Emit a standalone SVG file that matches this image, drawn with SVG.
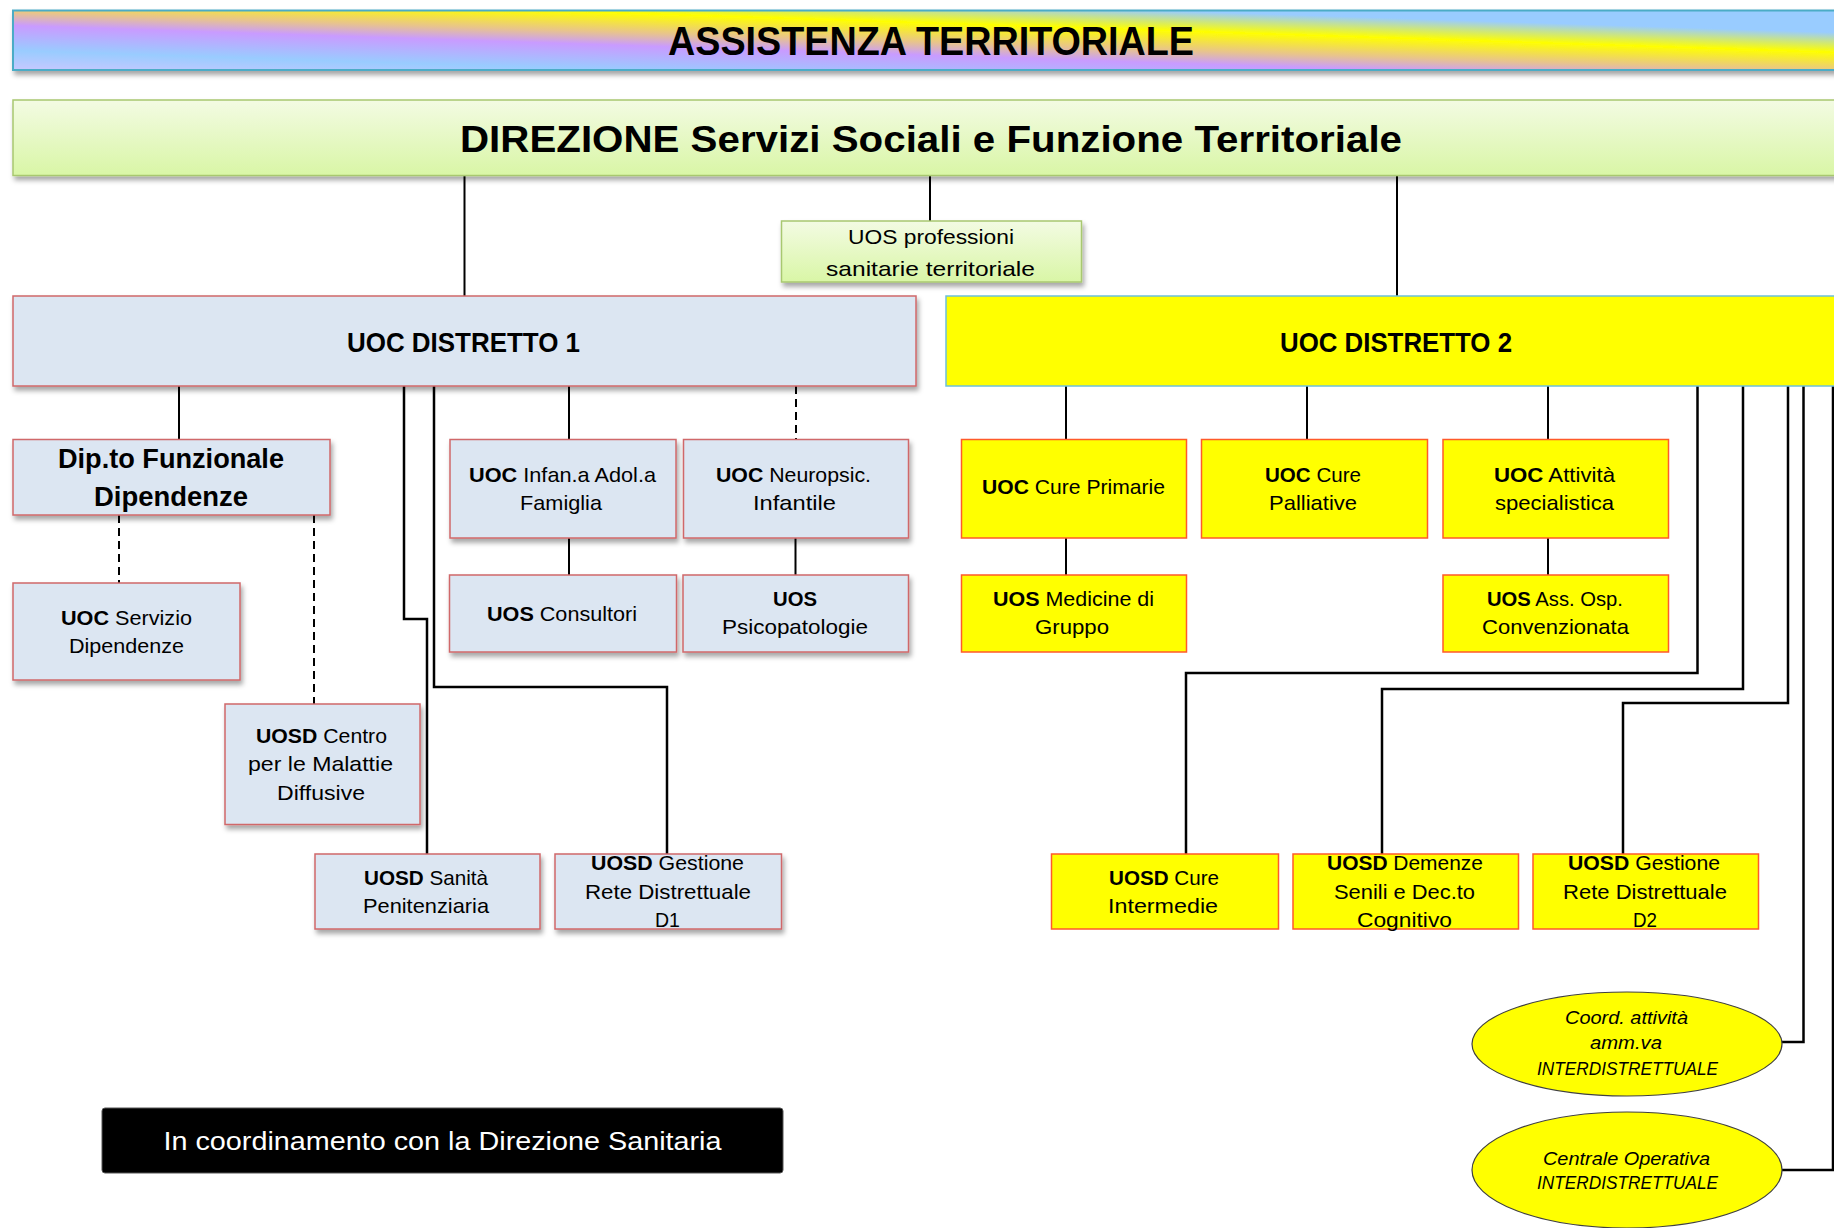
<svg xmlns="http://www.w3.org/2000/svg" width="1834" height="1228" viewBox="0 0 1834 1228">
<defs>
<linearGradient id="rainbow" gradientUnits="userSpaceOnUse" x1="0" y1="-50" x2="-3.9" y2="70">
<stop offset="0" stop-color="#99CCFF"/>
<stop offset="0.19" stop-color="#99CCFF"/>
<stop offset="0.354" stop-color="#FFFF00"/>
<stop offset="0.517" stop-color="#E8C48C"/>
<stop offset="0.625" stop-color="#C99BFF"/>
<stop offset="0.833" stop-color="#99CCFF"/>
<stop offset="1" stop-color="#C8C8FF"/>
</linearGradient>
<linearGradient id="green" x1="0" y1="0" x2="0" y2="1">
<stop offset="0" stop-color="#F3FBE3"/>
<stop offset="1" stop-color="#D9F6A6"/>
</linearGradient>
<filter id="shadow" x="-10%" y="-10%" width="130%" height="140%">
<feDropShadow dx="2" dy="4" stdDeviation="2.5" flood-color="#000" flood-opacity="0.35"/>
</filter>
<style>
text{font-family:"Liberation Sans",Arial,sans-serif;fill:#000;}
.b{font-weight:bold;}
.lbl{font-size:21px;text-anchor:middle;}
.it{font-size:18px;font-style:italic;text-anchor:middle;}
.blue{fill:#DCE6F2;stroke:#D0686A;stroke-width:1.5;filter:url(#shadow);}
.yel{fill:#FFFF00;stroke:#FF5A2A;stroke-width:1.5;}
.ell{fill:#FFFF00;stroke:#404040;stroke-width:1.2;}
.grn{fill:url(#green);stroke:#A8C870;stroke-width:1.5;filter:url(#shadow);}
.ln{fill:none;stroke:#000;stroke-width:2;}
.lt{fill:none;stroke:#000;stroke-width:2.5;}
.dash{fill:none;stroke:#000;stroke-width:2;stroke-dasharray:8 5;}
</style>
</defs>
<rect width="1834" height="1228" fill="#FFFFFF"/>

<g id="connectors">
<line class="ln" x1="464.5" y1="176" x2="464.5" y2="296"/>
<line class="ln" x1="930" y1="176" x2="930" y2="221"/>
<line class="ln" x1="1397" y1="176" x2="1397" y2="296"/>
<line class="ln" x1="179" y1="386" x2="179" y2="439.5"/>
<line class="ln" x1="569" y1="386" x2="569" y2="439.5"/>
<line class="dash" x1="796" y1="386" x2="796" y2="439.5"/>
<line class="ln" x1="569" y1="538" x2="569" y2="575"/>
<line class="ln" x1="795.5" y1="538" x2="795.5" y2="575"/>
<line class="dash" x1="119" y1="515" x2="119" y2="583"/>
<line class="dash" x1="314" y1="515" x2="314" y2="704"/>
<polyline class="lt" points="404,386 404,619 427,619 427,854"/>
<polyline class="lt" points="434,386 434,687 667,687 667,854"/>
<line class="ln" x1="1066" y1="386" x2="1066" y2="439.5"/>
<line class="ln" x1="1066" y1="538" x2="1066" y2="575"/>
<line class="ln" x1="1307" y1="386" x2="1307" y2="439.5"/>
<line class="ln" x1="1548" y1="386" x2="1548" y2="439.5"/>
<line class="ln" x1="1548" y1="538" x2="1548" y2="575"/>
<polyline class="lt" points="1697.5,386 1697.5,673 1186,673 1186,854"/>
<polyline class="lt" points="1743,386 1743,689 1382,689 1382,854"/>
<polyline class="lt" points="1788,386 1788,703 1623,703 1623,854"/>
<polyline class="lt" points="1803.5,386 1803.5,1042 1782,1042"/>
<polyline class="lt" points="1833,386 1833,1170 1782,1170"/>
</g>

<g id="title">
<rect x="13" y="10.5" width="1840" height="59.5" fill="url(#rainbow)" stroke="#4BACC6" stroke-width="2" filter="url(#shadow)"/>
<text x="931" y="55" class="b" font-size="40" text-anchor="middle" textLength="526" lengthAdjust="spacingAndGlyphs">ASSISTENZA TERRITORIALE</text>
</g>

<g id="direzione">
<rect class="grn" x="13" y="100" width="1840" height="75.5"/>
<text x="931" y="151.5" class="b" font-size="37" text-anchor="middle" textLength="942" lengthAdjust="spacingAndGlyphs">DIREZIONE Servizi Sociali e Funzione Territoriale</text>
</g>

<g id="uos-professioni">
<rect class="grn" x="781.5" y="221" width="300" height="61"/>
<text x="931" y="243.5" class="lbl" textLength="166" lengthAdjust="spacingAndGlyphs">UOS professioni</text>
<text x="930.5" y="276" class="lbl" textLength="209" lengthAdjust="spacingAndGlyphs">sanitarie territoriale</text>
</g>

<g id="distretto1">
<rect class="blue" x="13" y="296" width="903" height="90"/>
<text x="463.5" y="352" class="b" font-size="28" text-anchor="middle" textLength="233" lengthAdjust="spacingAndGlyphs">UOC DISTRETTO  1</text>
</g>

<g id="distretto2">
<rect x="946" y="296" width="900" height="90" fill="#FFFF00" stroke="#6EC0DA" stroke-width="1.5"/>
<text x="1396" y="352" class="b" font-size="28" text-anchor="middle" textLength="232" lengthAdjust="spacingAndGlyphs">UOC DISTRETTO  2</text>
</g>

<g id="dip-funzionale">
<rect class="blue" x="13" y="439.5" width="317" height="75.5"/>
<text x="171" y="468" class="b" font-size="27" text-anchor="middle" textLength="226" lengthAdjust="spacingAndGlyphs">Dip.to Funzionale</text>
<text x="171" y="506" class="b" font-size="27" text-anchor="middle" textLength="154" lengthAdjust="spacingAndGlyphs">Dipendenze</text>
</g>

<g id="uoc-infanzia">
<rect class="blue" x="450" y="439.5" width="226" height="98.5"/>
<text x="562.5" y="482" class="lbl" textLength="187" lengthAdjust="spacingAndGlyphs"><tspan class="b">UOC</tspan> Infan.a Adol.a</text>
<text x="561" y="510" class="lbl" textLength="82" lengthAdjust="spacingAndGlyphs">Famiglia</text>
</g>

<g id="uoc-neuropsic">
<rect class="blue" x="683.5" y="439.5" width="225" height="98.5"/>
<text x="793.5" y="482" class="lbl" textLength="155" lengthAdjust="spacingAndGlyphs"><tspan class="b">UOC</tspan> Neuropsic.</text>
<text x="794.5" y="510" class="lbl" textLength="83" lengthAdjust="spacingAndGlyphs">Infantile</text>
</g>

<g id="uoc-servizio-dip">
<rect class="blue" x="13" y="583" width="227" height="97"/>
<text x="126.5" y="625" class="lbl" textLength="131" lengthAdjust="spacingAndGlyphs"><tspan class="b">UOC</tspan>  Servizio</text>
<text x="126.5" y="653" class="lbl" textLength="115" lengthAdjust="spacingAndGlyphs">Dipendenze</text>
</g>

<g id="uos-consultori">
<rect class="blue" x="449.5" y="575" width="227" height="77"/>
<text x="562" y="620.5" class="lbl" textLength="150" lengthAdjust="spacingAndGlyphs"><tspan class="b">UOS</tspan> Consultori</text>
</g>

<g id="uos-psicopatologie">
<rect class="blue" x="683" y="575" width="225.5" height="77"/>
<text x="795" y="605.5" class="lbl b" textLength="44" lengthAdjust="spacingAndGlyphs">UOS</text>
<text x="795" y="634" class="lbl" textLength="146" lengthAdjust="spacingAndGlyphs">Psicopatologie</text>
</g>

<g id="uosd-centro">
<rect class="blue" x="225" y="704" width="195" height="120.5"/>
<text x="321.5" y="742.5" class="lbl" textLength="131" lengthAdjust="spacingAndGlyphs"><tspan class="b">UOSD</tspan> Centro</text>
<text x="320.5" y="771" class="lbl" textLength="145" lengthAdjust="spacingAndGlyphs">per le Malattie</text>
<text x="321" y="799.5" class="lbl" textLength="88" lengthAdjust="spacingAndGlyphs">Diffusive</text>
</g>

<g id="uosd-sanita">
<rect class="blue" x="315" y="854" width="225" height="75"/>
<text x="426" y="884.5" class="lbl" textLength="124" lengthAdjust="spacingAndGlyphs"><tspan class="b">UOSD</tspan> Sanità</text>
<text x="426" y="913" class="lbl" textLength="126" lengthAdjust="spacingAndGlyphs">Penitenziaria</text>
</g>

<g id="uosd-gestione-d1">
<rect class="blue" x="555" y="854" width="226.5" height="75"/>
<text x="667.5" y="869.5" class="lbl" textLength="153" lengthAdjust="spacingAndGlyphs"><tspan class="b">UOSD</tspan> Gestione</text>
<text x="668" y="898.5" class="lbl" textLength="166" lengthAdjust="spacingAndGlyphs">Rete Distrettuale</text>
<text x="667.5" y="927" class="lbl" textLength="25" lengthAdjust="spacingAndGlyphs">D1</text>
</g>

<g id="uoc-cure-primarie">
<rect class="yel" x="961.5" y="439.5" width="225" height="98.5"/>
<text x="1073.5" y="494" class="lbl" textLength="183" lengthAdjust="spacingAndGlyphs"><tspan class="b">UOC</tspan> Cure Primarie</text>
</g>

<g id="uoc-cure-palliative">
<rect class="yel" x="1201.5" y="439.5" width="226" height="98.5"/>
<text x="1313" y="481.5" class="lbl" textLength="96" lengthAdjust="spacingAndGlyphs"><tspan class="b">UOC</tspan> Cure</text>
<text x="1313" y="510" class="lbl" textLength="88" lengthAdjust="spacingAndGlyphs">Palliative</text>
</g>

<g id="uoc-attivita">
<rect class="yel" x="1443" y="439.5" width="225.5" height="98.5"/>
<text x="1554.5" y="481.5" class="lbl" textLength="121" lengthAdjust="spacingAndGlyphs"><tspan class="b">UOC</tspan> Attività</text>
<text x="1554.5" y="510" class="lbl" textLength="119" lengthAdjust="spacingAndGlyphs">specialistica</text>
</g>

<g id="uos-medicine">
<rect class="yel" x="961.5" y="575" width="225" height="77"/>
<text x="1073.5" y="605.5" class="lbl" textLength="161" lengthAdjust="spacingAndGlyphs"><tspan class="b">UOS</tspan> Medicine di</text>
<text x="1072" y="633.5" class="lbl" textLength="74" lengthAdjust="spacingAndGlyphs">Gruppo</text>
</g>

<g id="uos-ass-osp">
<rect class="yel" x="1443" y="575" width="225.5" height="77"/>
<text x="1555" y="605.5" class="lbl" textLength="136" lengthAdjust="spacingAndGlyphs"><tspan class="b">UOS</tspan> Ass. Osp.</text>
<text x="1555.5" y="633.5" class="lbl" textLength="147" lengthAdjust="spacingAndGlyphs">Convenzionata</text>
</g>

<g id="uosd-cure-intermedie">
<rect class="yel" x="1051.5" y="854" width="227" height="75"/>
<text x="1164" y="884.5" class="lbl" textLength="110" lengthAdjust="spacingAndGlyphs"><tspan class="b">UOSD</tspan> Cure</text>
<text x="1163" y="913" class="lbl" textLength="110" lengthAdjust="spacingAndGlyphs">Intermedie</text>
</g>

<g id="uosd-demenze">
<rect class="yel" x="1293" y="854" width="225.5" height="75"/>
<text x="1405" y="869.5" class="lbl" textLength="156" lengthAdjust="spacingAndGlyphs"><tspan class="b">UOSD</tspan> Demenze</text>
<text x="1404.5" y="898.5" class="lbl" textLength="141" lengthAdjust="spacingAndGlyphs">Senili e Dec.to</text>
<text x="1404.5" y="927" class="lbl" textLength="95" lengthAdjust="spacingAndGlyphs">Cognitivo</text>
</g>

<g id="uosd-gestione-d2">
<rect class="yel" x="1533" y="854" width="225.5" height="75"/>
<text x="1644" y="869.5" class="lbl" textLength="152" lengthAdjust="spacingAndGlyphs"><tspan class="b">UOSD</tspan> Gestione</text>
<text x="1645" y="898.5" class="lbl" textLength="164" lengthAdjust="spacingAndGlyphs">Rete Distrettuale</text>
<text x="1645" y="927" class="lbl" textLength="24" lengthAdjust="spacingAndGlyphs">D2</text>
</g>

<g id="coord-amm">
<ellipse class="ell" cx="1627" cy="1044" rx="155" ry="52"/>
<text x="1626.5" y="1024" class="it" textLength="123" lengthAdjust="spacingAndGlyphs">Coord. attività</text>
<text x="1626" y="1048.5" class="it" textLength="72" lengthAdjust="spacingAndGlyphs">amm.va</text>
<text x="1627.5" y="1074.5" class="it" textLength="181" lengthAdjust="spacingAndGlyphs">INTERDISTRETTUALE</text>
</g>

<g id="centrale-operativa">
<ellipse class="ell" cx="1627" cy="1170" rx="155" ry="58"/>
<text x="1626.5" y="1165" class="it" textLength="167" lengthAdjust="spacingAndGlyphs">Centrale Operativa</text>
<text x="1627.5" y="1189" class="it" textLength="181" lengthAdjust="spacingAndGlyphs">INTERDISTRETTUALE</text>
</g>

<g id="coordinamento">
<rect x="102" y="1108" width="681" height="65" rx="3" fill="#000000" stroke="#555555" stroke-width="1"/>
<text x="442.5" y="1150" font-size="25" text-anchor="middle" style="fill:#FFFFFF" textLength="558" lengthAdjust="spacingAndGlyphs">In coordinamento  con la Direzione  Sanitaria</text>
</g>
</svg>
